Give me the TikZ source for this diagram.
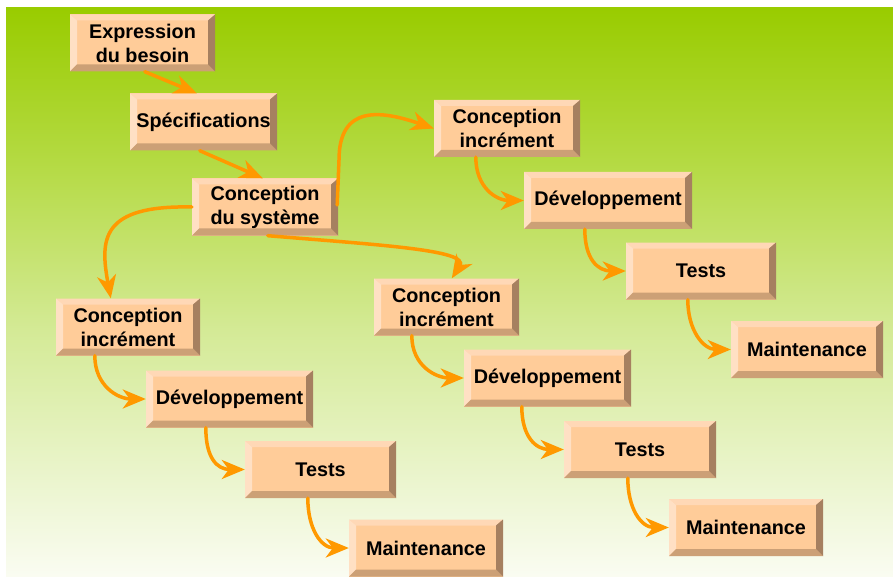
\documentclass[tikz,border=0pt]{standalone}
\usepackage{fontspec}
\setmainfont{Liberation Sans}
\usetikzlibrary{arrows.meta,calc}
\definecolor{face}{RGB}{255,204,153}
\definecolor{bevL}{RGB}{255,224,196}
\definecolor{bevT}{RGB}{255,216,182}
\definecolor{bevR}{RGB}{166,128,96}
\definecolor{bevB}{RGB}{204,160,118}
\definecolor{arrc}{RGB}{255,153,0}
\definecolor{gA}{RGB}{153,204,0}
\definecolor{gB}{RGB}{180,218,66}
\definecolor{gC}{RGB}{212,234,150}
\definecolor{gD}{RGB}{250,252,242}
\newcommand\colarr[3]{\draw[arr] ([xshift=#3]#1.south west) .. controls +(0,-30) and +(-28,0) .. (#2.west);}
\begin{document}
\begin{tikzpicture}[x=1pt,y=1pt,
  bx/.style={rectangle,inner sep=0pt,minimum height=57pt,fill=face,align=center,
    font=\bfseries\fontsize{19.8}{24}\selectfont,
    path picture={
      \fill[bevT] (path picture bounding box.north west) -- (path picture bounding box.north east)
        -- ([xshift=-7pt,yshift=-6pt]path picture bounding box.north east)
        -- ([xshift=7pt,yshift=-6pt]path picture bounding box.north west) -- cycle;
      \fill[bevL] (path picture bounding box.north west) -- (path picture bounding box.south west)
        -- ([xshift=7pt,yshift=7pt]path picture bounding box.south west)
        -- ([xshift=7pt,yshift=-6pt]path picture bounding box.north west) -- cycle;
      \fill[bevB] (path picture bounding box.south west) -- (path picture bounding box.south east)
        -- ([xshift=-7pt,yshift=7pt]path picture bounding box.south east)
        -- ([xshift=7pt,yshift=7pt]path picture bounding box.south west) -- cycle;
      \fill[bevR] (path picture bounding box.north east) -- (path picture bounding box.south east)
        -- ([xshift=-7pt,yshift=7pt]path picture bounding box.south east)
        -- ([xshift=-7pt,yshift=-6pt]path picture bounding box.north east) -- cycle;
    }},
  arr/.style={draw=arrc,line width=3.5pt,line cap=round,-{Stealth[length=23pt,width=19pt,inset=7pt]}}]
\useasboundingbox (0,0) rectangle (893,-577);
\fill[white] (0,0) rectangle (893,-577);
\shade[top color=gA,bottom color=gB] (6,-8) rectangle (893,-160.5);
\shade[top color=gB,bottom color=gC] (6,-160) rectangle (893,-330.5);
\shade[top color=gC,bottom color=gD] (6,-330) rectangle (893,-577);

\node[bx,minimum width=145pt] (exp) at (142.5,-43) {Expression\\du besoin};
\node[bx,minimum width=147pt] (spe) at (203.5,-122) {Spécifications};
\node[bx,minimum width=146pt] (sys) at (265,-207) {Conception\\du système};
\node[bx,minimum width=146pt] (ciR) at (507,-128.5) {Conception\\incrément};
\node[bx,minimum width=168pt] (devR) at (608,-200.5) {Développement};
\node[bx,minimum width=150pt] (tstR) at (701,-271) {Tests};
\node[bx,minimum width=152pt] (mntR) at (807,-349.5) {Maintenance};
\node[bx,minimum width=145pt] (ciM) at (446.5,-307) {Conception\\incrément};
\node[bx,minimum width=167pt] (devM) at (547.5,-378) {Développement};
\node[bx,minimum width=152pt] (tstM) at (640,-449.5) {Tests};
\node[bx,minimum width=154pt] (mntM) at (746,-527.5) {Maintenance};
\node[bx,minimum width=144pt] (ciL) at (128,-327) {Conception\\incrément};
\node[bx,minimum width=167pt] (devL) at (229.5,-399) {Développement};
\node[bx,minimum width=151pt] (tstL) at (320.5,-469.5) {Tests};
\node[bx,minimum width=154pt] (mntL) at (426,-548) {Maintenance};

\draw[arr] ([xshift=75pt]exp.south west) -- ([xshift=67pt]spe.north west);
\draw[arr] ([xshift=70pt]spe.south west) -- ([xshift=71pt]sys.north west);
\draw[arr] ([xshift=-1pt,yshift=2pt]sys.east) -- (339,-160) .. controls (339,-105) and (380,-110) .. (ciR.west);
\draw[arr] (sys.west) .. controls (100,-205) and (100,-240) .. ([xshift=55pt]ciL.north west);
\draw[arr] ([xshift=76pt]sys.south west) .. controls (380,-245) and (470,-250) .. ([xshift=78pt]ciM.north west);

\colarr{ciR}{devR}{42pt}
\colarr{devR}{tstR}{61pt}
\colarr{tstR}{mntR}{62pt}
\colarr{ciM}{devM}{38pt}
\colarr{devM}{tstM}{58pt}
\colarr{tstM}{mntM}{64pt}
\colarr{ciL}{devL}{39pt}
\colarr{devL}{tstL}{60pt}
\colarr{tstL}{mntL}{63pt}
\end{tikzpicture}
\end{document}
